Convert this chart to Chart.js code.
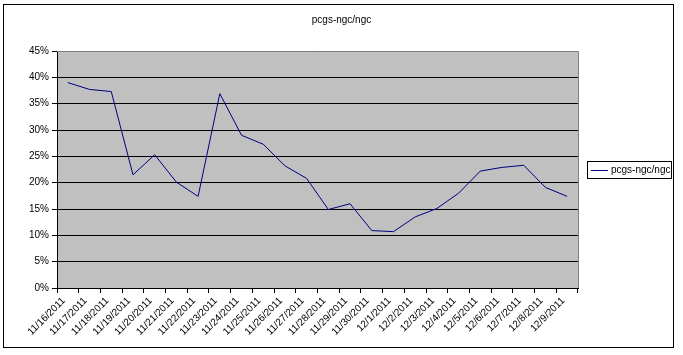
<!DOCTYPE html>
<html>
<head>
<meta charset="utf-8">
<script src="https://cdn.jsdelivr.net/npm/chart.js@4/dist/chart.umd.min.js"></script>
<style>
html,body{margin:0;padding:0;background:#fff;}
canvas{display:block;}
</style>
</head>
<body>
<canvas id="c" width="683" height="355"></canvas>
<script>
const categories = ["11/16/2011","11/17/2011","11/18/2011","11/19/2011","11/20/2011","11/21/2011","11/22/2011","11/23/2011","11/24/2011","11/25/2011","11/26/2011","11/27/2011","11/28/2011","11/29/2011","11/30/2011","12/1/2011","12/2/2011","12/3/2011","12/4/2011","12/5/2011","12/6/2011","12/7/2011","12/8/2011","12/9/2011"];
const seriesName = "pcgs-ngc/ngc";
const seriesValues = [0.390,0.377,0.373,0.215,0.253,0.201,0.174,0.369,0.290,0.273,0.232,0.208,0.149,0.160,0.109,0.107,0.135,0.151,0.180,0.222,0.229,0.233,0.191,0.174];
const yTicks = [0,0.05,0.10,0.15,0.20,0.25,0.30,0.35,0.40,0.45];

const FONT = "'Liberation Sans', Arial, sans-serif";

const deco = {
  id: 'deco',
  beforeDraw(chart) {
    const ctx = chart.ctx, a = chart.chartArea;
    ctx.save();
    ctx.fillStyle = '#fff';
    ctx.fillRect(0, 0, chart.width, chart.height);
    ctx.strokeStyle = '#000';
    ctx.lineWidth = 1;
    ctx.strokeRect(3.5, 4.5, 670, 343);
    ctx.fillStyle = '#C0C0C0';
    ctx.fillRect(a.left, a.top, a.right - a.left, a.bottom - a.top);
    ctx.restore();
  },
  afterDraw(chart) {
    const ctx = chart.ctx, a = chart.chartArea;
    ctx.save();
    ctx.strokeStyle = '#808080';
    ctx.lineWidth = 1;
    ctx.beginPath();
    ctx.moveTo(a.left, Math.round(a.top) + 0.5);
    ctx.lineTo(Math.round(a.right) + 0.5, Math.round(a.top) + 0.5);
    ctx.lineTo(Math.round(a.right) + 0.5, a.bottom);
    ctx.stroke();
    // legend
    const ds = chart.data.datasets[0];
    const lx = 587.5, ly = 161.5, lw = 84, lh = 17;
    ctx.strokeStyle = '#000';
    ctx.strokeRect(lx, ly, lw, lh);
    ctx.strokeStyle = ds.borderColor;
    ctx.beginPath();
    ctx.moveTo(591, 170.5);
    ctx.lineTo(608, 170.5);
    ctx.stroke();
    ctx.fillStyle = '#000';
    ctx.font = '10px ' + FONT;
    ctx.textBaseline = 'middle';
    ctx.textAlign = 'left';
    ctx.fillText(ds.label, 611, 170.5);
    ctx.restore();
  }
};

new Chart(document.getElementById('c'), {
  type: 'line',
  data: {
    labels: categories,
    datasets: [{
      label: seriesName,
      data: seriesValues,
      borderColor: '#000080',
      borderWidth: 1,
      pointRadius: 0,
      tension: 0,
      fill: false,
      yAxisID: 'y'
    }]
  },
  options: {
    responsive: false,
    animation: false,
    devicePixelRatio: 1,
    layout: { padding: 0 },
    plugins: {
      legend: { display: false },
      tooltip: { enabled: false },
      title: {
        display: true,
        text: seriesName,
        color: '#000',
        font: { size: 10, family: FONT, weight: 'normal' },
        padding: { top: 14, bottom: 25 }
      }
    },
    scales: {
      x: {
        type: 'category',
        offset: true,
        grid: { offset: true, drawOnChartArea: false, drawTicks: true, tickLength: 5, color: '#000' },
        border: { color: '#000', width: 1 },
        ticks: {
          autoSkip: false, minRotation: 45, maxRotation: 45,
          color: '#000', font: { size: 10, family: FONT }, padding: 2, labelOffset: -4
        },
        afterFit(s) { s.height = 67; }
      },
      y: {
        position: 'left',
        min: 0, max: 0.45,
        afterBuildTicks(s) { s.ticks = yTicks.map(v => ({ value: v })); },
        grid: { color: '#000', tickLength: 5, drawTicks: true },
        border: { color: '#000', width: 1 },
        ticks: {
          color: '#000', font: { size: 10, family: FONT }, padding: 3,
          callback: v => Math.round(v * 100) + '%'
        },
        afterFit(s) { s.width = 57; }
      },
      yr: {
        position: 'right',
        min: 0, max: 0.45,
        grid: { drawOnChartArea: false, drawTicks: false, display: false },
        border: { display: false },
        ticks: { display: false },
        afterFit(s) { s.width = 105; }
      }
    }
  },
  plugins: [deco]
});
</script>
</body>
</html>
